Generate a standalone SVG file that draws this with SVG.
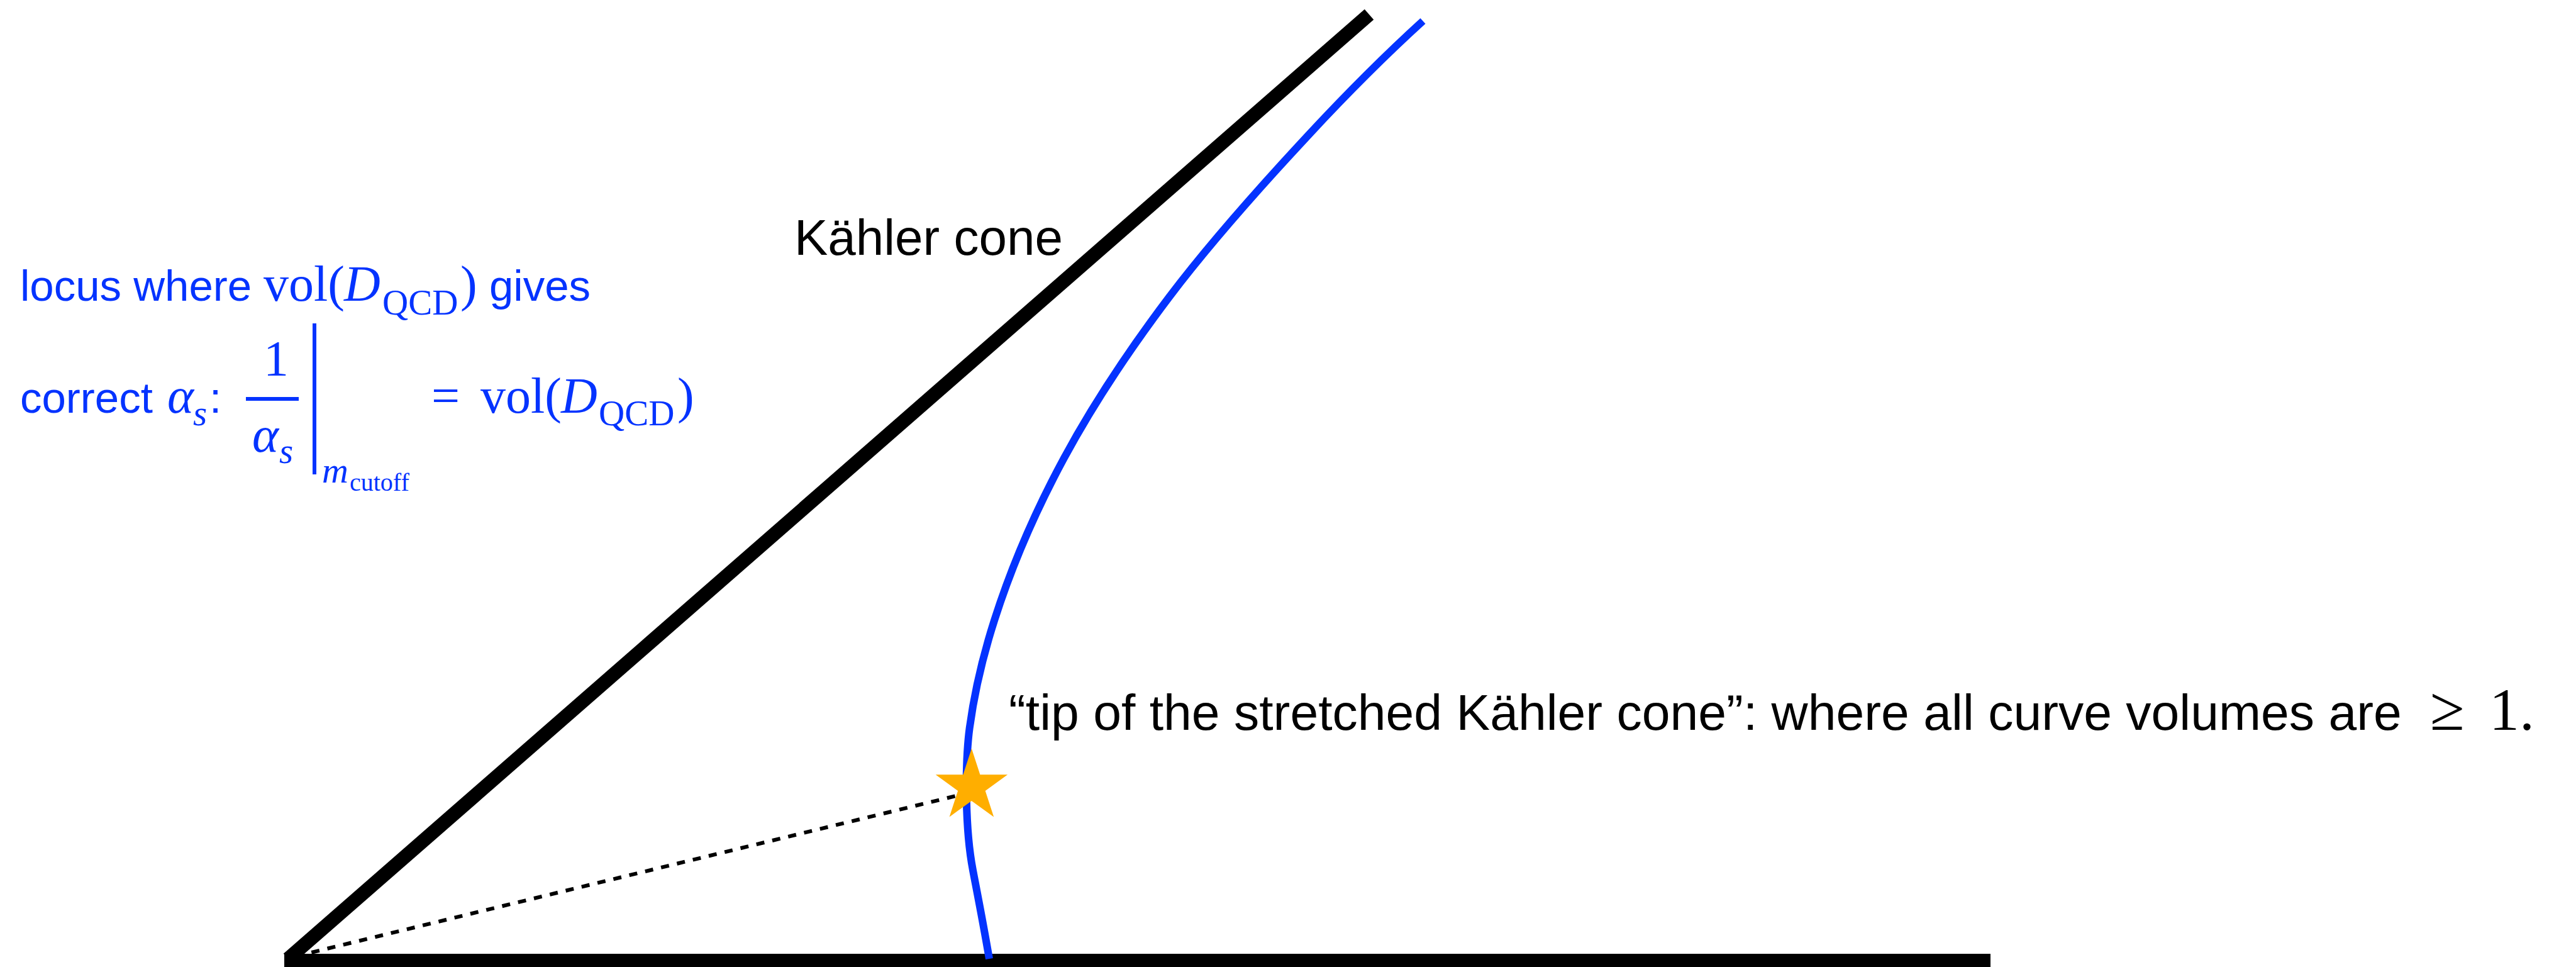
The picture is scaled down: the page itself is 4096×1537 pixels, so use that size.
<svg xmlns="http://www.w3.org/2000/svg" width="4096" height="1537" viewBox="0 0 4096 1537">
<style>
.sans{font-family:"Liberation Sans",Arial,sans-serif}
.serif{font-family:"Liberation Serif","Times New Roman",serif}
.it{font-style:italic}
.blue{fill:#0433ff}
.blk{fill:#000}
</style>
<rect width="4096" height="1537" fill="#fff"/>
<g id="connectors">
  <line id="dashed" x1="470" y1="1520" x2="1545" y2="1259" stroke="#000" stroke-width="6" stroke-dasharray="13 13"/>
  <line id="cone-upper" x1="458" y1="1524" x2="2177" y2="23" stroke="#000" stroke-width="22"/>
  <line id="cone-lower" x1="452" y1="1527" x2="3165" y2="1527" stroke="#000" stroke-width="22"/>
  <path id="locus-curve" fill="none" stroke="#0433ff" stroke-width="12" d="M2262.5,33.4 C2196.2,93.7 2136.9,154 2080.8,214.3 C2001.1,300 1924.6,385.7 1859.7,471.4 C1794.8,557.1 1738,642.8 1691.7,728.5 C1645.4,814.2 1608.6,899.9 1581.2,985.6 C1562.9,1042.7 1549.4,1099.9 1541.7,1157 C1537.8,1185.6 1536.9,1214.1 1536.6,1242.7 C1536.4,1290 1538,1336.5 1547,1383.4 C1552,1410 1562,1460 1573,1524"/>
</g>
<g id="star">
  <polygon fill="#ffae00" points="1544.9,1189.8 1558.4,1231.3 1602.1,1231.3 1566.7,1257 1580.2,1298.5 1544.9,1272.9 1509.6,1298.5 1523.1,1257 1487.7,1231.3 1531.4,1231.3"/>
</g>
<g id="kahler-label">
  <text class="sans blk" x="1263" y="405" font-size="80">Kähler cone</text>
</g>
<g id="tip-label">
  <text class="sans blk" x="1604" y="1160" font-size="80.5">“tip of the stretched Kähler cone”: where all curve volumes are</text>
  <text class="serif blk" x="3864" y="1160" font-size="100">≥</text>
  <text class="serif blk" x="3958" y="1160" font-size="96">1.</text>
</g>
<g id="locus-label">
  <text class="sans blue" x="32" y="478" font-size="69">locus where</text>
  <text class="serif blue" x="419" y="478" font-size="80">vol(</text>
  <text class="serif it blue" x="547" y="478" font-size="80">D</text>
  <text class="serif blue" x="608" y="500" font-size="57">QCD</text>
  <text class="serif blue" x="732" y="478" font-size="80">)</text>
  <text class="sans blue" x="778" y="478" font-size="69">gives</text>

  <text class="sans blue" x="32" y="656" font-size="69">correct</text>
  <text class="serif it blue" x="266" y="656" font-size="80">α</text>
  <text class="serif it blue" x="307" y="676" font-size="57">s</text>
  <text class="sans blue" x="333" y="656" font-size="69">:</text>
  <text class="serif blue" x="419" y="597" font-size="80">1</text>
  <rect class="blue" x="391" y="631" width="84" height="6"/>
  <text class="serif it blue" x="401" y="718" font-size="80">α</text>
  <text class="serif it blue" x="444" y="736" font-size="57">s</text>
  <rect class="blue" x="497" y="514" width="6" height="240"/>
  <text class="serif it blue" x="512" y="767" font-size="58">m</text>
  <text class="serif blue" x="556" y="780" font-size="40">cutoff</text>
  <text class="serif blue" x="686" y="656" font-size="80">=</text>
  <text class="serif blue" x="764" y="656" font-size="80">vol(</text>
  <text class="serif it blue" x="892" y="656" font-size="80">D</text>
  <text class="serif blue" x="952" y="676" font-size="57">QCD</text>
  <text class="serif blue" x="1077" y="656" font-size="80">)</text>
</g>
</svg>
